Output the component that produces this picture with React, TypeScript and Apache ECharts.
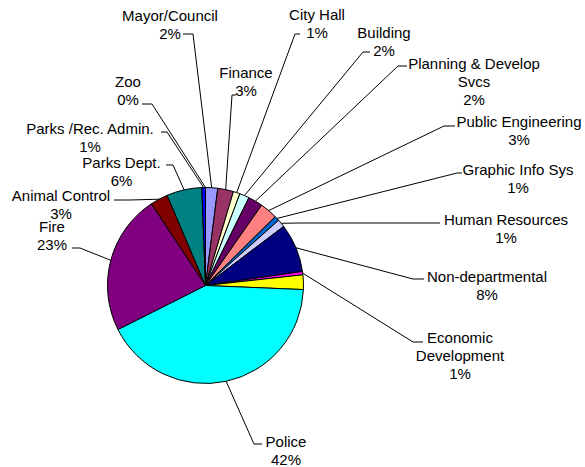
import React, { useEffect, useRef } from 'react';
import * as echarts from 'echarts';

// Departments in drawing order (clockwise from 12 o'clock)
const departments: string[] = [
  'Mayor/Council',
  'Finance',
  'City Hall',
  'Building',
  'Planning & Develop\nSvcs',
  'Public Engineering',
  'Graphic Info Sys',
  'Human Resources',
  'Non-departmental',
  'Economic\nDevelopment',
  '',
  'Police',
  'Fire',
  'Animal Control',
  'Parks Dept.',
  'Parks /Rec. Admin.',
  'Zoo',
];

// Share of budget (%)
const shares: number[] = [2.0, 2.6, 1.1, 1.6, 2.4, 2.9, 0.8, 1.3, 8.0, 0.55, 2.4, 41.9, 23.1, 2.9, 5.8, 0.6, 0];

// Whether the slice carries a data label
const labelled: boolean[] = [true, true, true, true, true, true, true, true, true, true, false, true, true, true, true, true, true];

const sliceColors: string[] = [
  '#9999FF', '#993366', '#FFFFCC', '#CCFFFF', '#660066', '#FF8080', '#0066CC', '#CCCCFF',
  '#000080', '#FF00FF', '#FFFF00', '#00FFFF', '#800080', '#800000', '#008080', '#0000FF', '#00CCFF',
];

// Label placement: [textCenterX, textCenterY, kneeX, kneeY, lineEndX]
const labelSpots: (number[] | null)[] = [
  [170, 24, 193, 34, 183],
  [246, 81, 232, 95, 236],
  [317, 23, 295, 34, 300],
  [384, 41, 363, 52, 370],
  [474, 81, 398, 66, 407],
  [519, 130, 444, 126, 455],
  [518, 178, 457, 173, 462],
  [506, 228.5, 300, 223, 440],
  [487, 285, 413, 279, 424],
  [460, 355, 413, 342, 423],
  null,
  [286, 450.5, 254, 444, 262],
  [52, 235, 80, 248, 72],
  [61, 204, 130, 200, 114],
  [121.5, 171, 173, 165, 166],
  [90, 137, 167, 132, 161],
  [128, 90, 152, 104, 142],
];

export default function App() {
  const ref = useRef<HTMLDivElement>(null);
  useEffect(() => {
    if (!ref.current) return;
    const chart = echarts.init(ref.current, null, { renderer: 'svg' });
    const data = departments.map((name, i) => ({
      name,
      value: shares[i],
      itemStyle: { color: sliceColors[i] },
      label: { show: labelled[i] },
      labelLine: { show: labelled[i] },
    }));
    chart.setOption({
      animation: false,
      backgroundColor: '#ffffff',
      series: [
        {
          type: 'pie',
          center: [205.5, 285.5],
          radius: 98,
          startAngle: 90,
          clockwise: true,
          avoidLabelOverlap: false,
          itemStyle: { borderColor: '#000000', borderWidth: 1 },
          emphasis: { disabled: true },
          label: {
            show: true,
            color: '#000000',
            fontFamily: '"Liberation Sans", Arial, sans-serif',
            fontSize: 15,
            lineHeight: 18,
            align: 'center',
            formatter: (p: any) => `${p.name}\n${Math.round(p.percent)}%`,
          },
          labelLine: {
            show: true,
            length: 10,
            length2: 10,
            smooth: false,
            lineStyle: { color: '#000000', width: 1 },
          },
          labelLayout: (params: any) => {
            const s = labelSpots[params.dataIndex];
            if (!s || !params.labelLinePoints) return {};
            const p0 = params.labelLinePoints[0];
            return {
              x: s[0],
              y: s[1],
              align: 'center',
              verticalAlign: 'middle',
              labelLinePoints: [p0, [s[2], s[3]], [s[4], s[3]]],
            };
          },
          data,
        },
      ],
    });
    return () => chart.dispose();
  }, []);
  return (
    <div
      ref={ref}
      style={{ position: 'absolute', left: 0, top: 0, width: 585, height: 467, background: '#fff' }}
    />
  );
}
